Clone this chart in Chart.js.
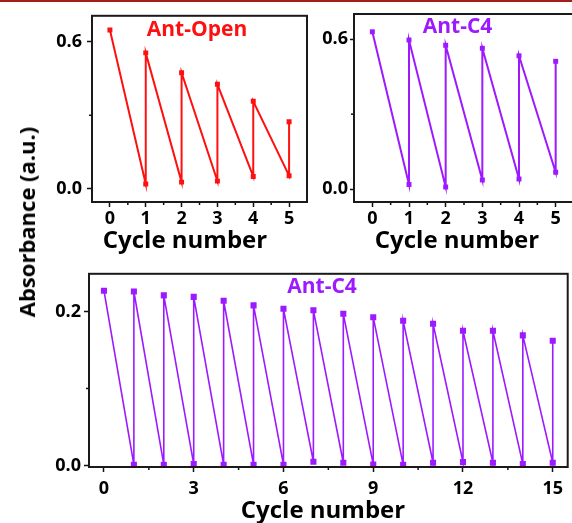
<!DOCTYPE html>
<html>
<head>
<meta charset="utf-8">
<script src="https://cdn.jsdelivr.net/npm/chart.js@4"></script>
<style>
  html, body { margin: 0; padding: 0; background: #fff; }
  body { width: 572px; height: 523px; overflow: hidden; position: relative; }
  canvas { position: absolute; }
  #topBar { position: absolute; left: 0; top: 0; width: 572px; height: 2px; background: #a31d1d; z-index: 5; }
  #yTitle {
    position: absolute; left: 26px; top: 222px; white-space: nowrap;
    font: bold 22px "Open Sans", sans-serif; line-height: 1; color: #000;
    transform: translate(-50%, -50%) rotate(-90deg);
  }
</style>
</head>
<body>
<div id="topBar"></div>
<canvas id="openChart" width="320" height="260" style="left:0;top:0"></canvas>
<canvas id="c4Chart" width="260" height="260" style="left:320px;top:0"></canvas>
<canvas id="longChart" width="572" height="263" style="left:0;top:260px"></canvas>
<div id="yTitle">Absorbance (a.u.)</div>
<script>
// Ant-Open, cycles 0-5: value before irradiation (high) and after (low, from cycle 1)
const openHigh = [0.647, 0.554, 0.473, 0.426, 0.357, 0.274];
const openLow = [0.020, 0.028, 0.032, 0.051, 0.054];

// Ant-C4, cycles 0-5
const c4High = [0.629, 0.596, 0.575, 0.563, 0.533, 0.511];
const c4Low = [0.019, 0.009, 0.037, 0.041, 0.068];

// Ant-C4, cycles 0-15
const longHigh = [0.227, 0.226, 0.221, 0.219, 0.214, 0.208, 0.2035, 0.2017,
                  0.197, 0.1926, 0.188, 0.184, 0.175, 0.175, 0.169, 0.162];
const longLow = [0.001, 0.001, 0.0017, 0.001, 0.001, 0.001, 0.0048, 0.0035,
                 0.0013, 0.001, 0.0035, 0.0043, 0.0035, 0.0017, 0.0035];

// Tick labels
const shortXTicks = [0, 1, 2, 3, 4, 5];
const shortYTicks = [0, 0.6];
const longXTicks = [0, 3, 6, 9, 12, 15];
const longYTicks = [0, 0.2];

const RED = '#ff1010';
const PURPLE = '#9d1aff';
const FONT = '"Open Sans", sans-serif';

// sawtooth: high at n, low at n+1, then back up to high at n+1
function buildPoints(high, low) {
    const pts = [{ x: 0, y: high[0] }];
    for (let i = 1; i < high.length; i++) {
        pts.push({ x: i, y: low[i - 1] });
        pts.push({ x: i, y: high[i] });
    }
    return pts;
}

// frame, minor ticks and the texts inside each panel
const panelPlugin = {
    id: 'panel',
    afterDraw(chart, args, opts) {
        const { ctx, chartArea: a, scales } = chart;
        ctx.save();
        ctx.strokeStyle = '#111';
        ctx.lineWidth = 1.5;
        opts.xMinor.forEach(v => {
            const px = scales.x.getPixelForValue(v);
            ctx.beginPath();
            ctx.moveTo(px, a.bottom);
            ctx.lineTo(px, a.bottom + 3);
            ctx.stroke();
        });
        opts.yMinor.forEach(v => {
            const py = scales.y.getPixelForValue(v);
            ctx.beginPath();
            ctx.moveTo(a.left, py);
            ctx.lineTo(a.left - 3, py);
            ctx.stroke();
        });
        ctx.lineWidth = 2;
        ctx.strokeStyle = '#1a1a1a';
        ctx.strokeRect(a.left, a.top, a.right - a.left, a.bottom - a.top);

        ctx.textAlign = 'center';
        ctx.textBaseline = 'alphabetic';
        ctx.fillStyle = opts.color;
        ctx.font = 'bold 21px ' + FONT;
        ctx.fillText(opts.label, opts.labelAt[0], opts.labelAt[1]);
        ctx.fillStyle = '#000';
        ctx.font = 'bold 24px ' + FONT;
        ctx.fillText('Cycle number', opts.titleAt[0], opts.titleAt[1]);
        ctx.restore();
    }
};

function makeChart(id, cfg) {
    const tickFont = { family: FONT, size: 18, weight: 'bold' };
    new Chart(document.getElementById(id), {
        type: 'line',
        data: {
            datasets: [{
                data: buildPoints(cfg.high, cfg.low),
                borderColor: cfg.color,
                backgroundColor: cfg.color,
                borderWidth: cfg.lineWidth,
                pointStyle: 'rect',
                pointRadius: cfg.pointRadius,
                pointBorderWidth: 0,
                pointBackgroundColor: cfg.color,
                tension: 0
            }]
        },
        options: {
            responsive: false,
            animation: false,
            events: [],
            layout: { padding: cfg.padding },
            plugins: {
                legend: { display: false },
                tooltip: { enabled: false },
                panel: {
                    color: cfg.color,
                    label: cfg.label,
                    labelAt: cfg.labelAt,
                    titleAt: cfg.titleAt,
                    xMinor: cfg.xMinor,
                    yMinor: cfg.yMinor
                }
            },
            scales: {
                x: {
                    type: 'linear',
                    min: cfg.xRange[0],
                    max: cfg.xRange[1],
                    afterBuildTicks: s => { s.ticks = cfg.xTicks.map(v => ({ value: v })); },
                    afterFit: s => { s.height = cfg.xHeight; },
                    border: { display: false },
                    grid: { drawOnChartArea: false, tickLength: 5, tickWidth: 1.5, tickColor: '#111' },
                    ticks: { color: '#000', font: tickFont, padding: cfg.xPad, maxRotation: 0 }
                },
                y: {
                    min: cfg.yRange[0],
                    max: cfg.yRange[1],
                    afterBuildTicks: s => { s.ticks = cfg.yTicks.map(v => ({ value: v })); },
                    afterFit: s => { s.width = cfg.yWidth; },
                    border: { display: false },
                    grid: { drawOnChartArea: false, tickLength: cfg.yTickLen, tickWidth: 1.5, tickColor: '#111' },
                    ticks: { color: '#000', font: tickFont, padding: cfg.yPad, callback: v => v.toFixed(1) }
                }
            }
        },
        plugins: [panelPlugin]
    });
}

makeChart('openChart', {
    high: openHigh, low: openLow, color: RED, label: 'Ant-Open',
    lineWidth: 2, pointRadius: 3.5,
    xRange: [-0.5, 5.5], yRange: [-0.053, 0.705],
    xTicks: shortXTicks, yTicks: shortYTicks,
    xMinor: [0.5, 1.5, 2.5, 3.5, 4.5], yMinor: [0.3],
    padding: { top: 15, right: 13, left: 0, bottom: 0 },
    yWidth: 92, xHeight: 58, xPad: 1, yPad: 5, yTickLen: 5,
    labelAt: [197, 36], titleAt: [185, 248]
});

makeChart('c4Chart', {
    high: c4High, low: c4Low, color: PURPLE, label: 'Ant-C4',
    lineWidth: 2, pointRadius: 3.5,
    xRange: [-0.5, 5.5], yRange: [-0.051, 0.70],
    xTicks: shortXTicks, yTicks: shortYTicks,
    xMinor: [0.5, 1.5, 2.5, 3.5, 4.5], yMinor: [0.3],
    padding: { top: 14, right: 6, left: 0, bottom: 0 },
    yWidth: 34, xHeight: 58, xPad: 1, yPad: 2, yTickLen: 4,
    labelAt: [137.5, 32.7], titleAt: [137, 248]
});

makeChart('longChart', {
    high: longHigh, low: longLow, color: PURPLE, label: 'Ant-C4',
    lineWidth: 1.6, pointRadius: 4.3,
    xRange: [-0.5, 15.5], yRange: [-0.002, 0.249],
    xTicks: longXTicks, yTicks: longYTicks,
    xMinor: [1.5, 4.5, 7.5, 10.5, 13.5], yMinor: [0.1],
    padding: { top: 13, right: 4, left: 0, bottom: 0 },
    yWidth: 89, xHeight: 56, xPad: 6, yPad: 3, yTickLen: 5,
    labelAt: [322, 32.7], titleAt: [323, 258.3]
});
</script>
</body>
</html>
